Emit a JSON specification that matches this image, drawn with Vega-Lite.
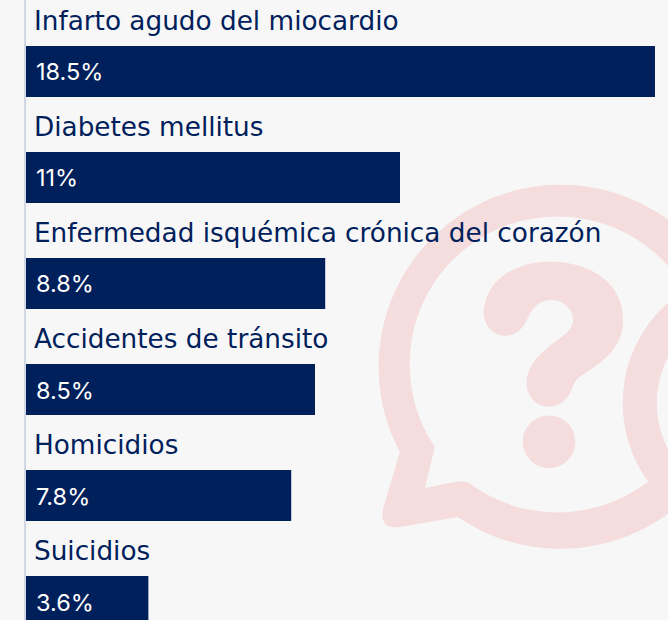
{"$schema":"https://vega.github.io/schema/vega-lite/v6.json","width":668,"height":620,"autosize":"none","padding":0,"background":"#f7f7f7","view":{"stroke":null},"data":{"values":[{"causa":"Infarto agudo del miocardio","valor":18.5,"etiqueta":"18.5%"},{"causa":"Diabetes mellitus","valor":11,"etiqueta":"11%"},{"causa":"Enfermedad isquémica crónica del corazón","valor":8.8,"etiqueta":"8.8%"},{"causa":"Accidentes de tránsito","valor":8.5,"etiqueta":"8.5%"},{"causa":"Homicidios","valor":7.8,"etiqueta":"7.8%"},{"causa":"Suicidios","valor":3.6,"etiqueta":"3.6%"}]},"encoding":{"y":{"field":"causa","type":"nominal","sort":null,"axis":null,"scale":{"domain":["Infarto agudo del miocardio","Diabetes mellitus","Enfermedad isquémica crónica del corazón","Accidentes de tránsito","Homicidios","Suicidios"],"range":[46,627],"paddingInner":0.519,"paddingOuter":0}},"x":{"field":"valor","type":"quantitative","axis":null,"scale":{"domain":[0,18.5],"range":[26,655],"nice":false,"zero":false}}},"layer":[{"data":{"values":[{"causa":"Accidentes de tránsito","valor":15.7}]},"mark":{"type":"point","filled":true,"opacity":1,"color":"#f5dcdd","size":160000,"shape":"M-.51 .6375A.91 .91 0 1 0 -.8 .3125L-.885 .6025Q-.9 .7025 -.8 .6875ZM-.625 .2875A.74 .74 0 1 1 -.44 .4775Q-.47 .45 -.525 .4625L-.675 .4925ZM.315 .0675A.67 .67 0 1 0 1.655 .0675A.67 .67 0 1 0 .315 .0675ZM.485 .0675A.5 .5 0 1 1 1.485 .0675A.5 .5 0 1 1 .485 .0675ZM-.38 -.381C-.38 -.53 -.24 -.639 -.05 -.639C.16 -.639 .3165 -.53 .3165 -.3475C.3165 -.2 .2 -.13 .1 -.064C.07 -.04 .07 -.02 .05 .019C.03 .06 -.01 .086 -.0585 .086C-.12 .086 -.1665 .03 -.1665 -.031C-.1665 -.13 -.08 -.19 -.0335 -.231C.02 -.27 .0665 -.3 .0665 -.3475C.0665 -.41 .01 -.4475 -.0415 -.4475C-.1 -.4475 -.12 -.42 -.15 -.381C-.17 -.33 -.2 -.269 -.275 -.269C-.33 -.269 -.38 -.32 -.38 -.381ZM-.185 .261A.1315 .1315 0 1 0 .078 .261A.1315 .1315 0 1 0 -.185 .261Z"}},{"mark":{"type":"bar","color":"#00205b"},"encoding":{"x":{"field":"valor","type":"quantitative"},"x2":{"datum":0}}},{"data":{"values":[{"inicio":-0.03}]},"mark":{"type":"rule","color":"#d0d7e5","strokeWidth":2},"encoding":{"x":{"field":"inicio","type":"quantitative"},"y":null}},{"mark":{"type":"text","align":"left","baseline":"middle","dx":8,"dy":-49.5,"font":"DejaVu Sans","fontSize":26.3,"color":"#00205b"},"encoding":{"x":{"datum":0},"text":{"field":"causa"}}},{"mark":{"type":"text","align":"left","baseline":"middle","dx":10,"dy":2,"font":"Inter","fontSize":23.5,"color":"#ffffff"},"encoding":{"x":{"datum":0},"text":{"field":"etiqueta"}}}]}
